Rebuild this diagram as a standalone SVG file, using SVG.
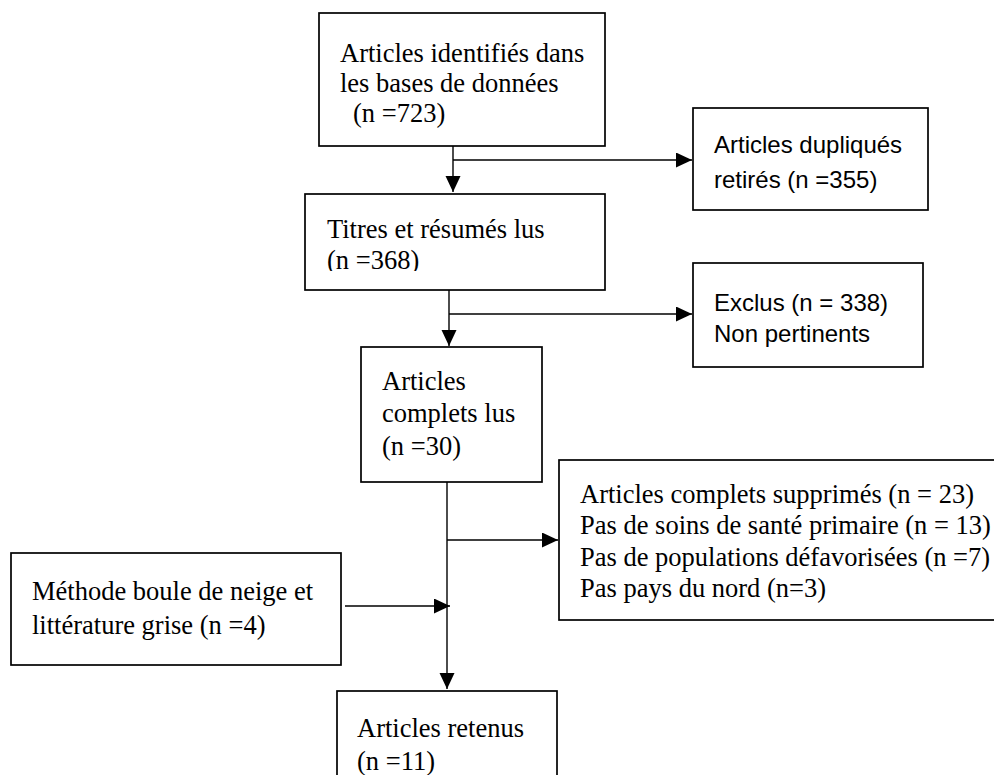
<svg xmlns="http://www.w3.org/2000/svg" width="994" height="775" viewBox="0 0 994 775">
<style>
.box{fill:#fff;stroke:#000;stroke-width:1.7}
.serif{font-family:"Liberation Serif","Times New Roman",serif;font-size:26.5px;fill:#000}
.sans{font-family:"Liberation Sans",Arial,sans-serif;font-size:24px;fill:#000}
.conn{stroke:#000;stroke-width:1.4;fill:none}
</style>
<defs>
<marker id="ah" markerUnits="userSpaceOnUse" markerWidth="17" markerHeight="17" refX="16" refY="7.5" orient="auto">
<path d="M0,0 L16,7.5 L0,15 z" fill="#000"/>
</marker>
<clipPath id="clip2"><rect x="305" y="194" width="300" height="77"/></clipPath>
</defs>
<rect width="994" height="775" fill="#fff"/>
<g id="connectors">
<line class="conn" x1="453" y1="137" x2="453" y2="192" marker-end="url(#ah)"/>
<line class="conn" x1="453" y1="160" x2="692" y2="160" marker-end="url(#ah)"/>
<line class="conn" x1="449" y1="287" x2="449" y2="346" marker-end="url(#ah)"/>
<line class="conn" x1="449" y1="314" x2="692" y2="314" marker-end="url(#ah)"/>
<line class="conn" x1="447" y1="482" x2="447" y2="689" marker-end="url(#ah)"/>
<line class="conn" x1="447" y1="540" x2="558" y2="540" marker-end="url(#ah)"/>
<line class="conn" x1="345" y1="606" x2="450" y2="606" marker-end="url(#ah)"/>
</g>
<g id="node-identified">
<rect class="box" x="319" y="13" width="286" height="133"/>
<text class="serif" x="340" y="62">Articles identifiés dans</text>
<text class="serif" x="340" y="92">les bases de données</text>
<text class="serif" x="353" y="122">(n =723)</text>
</g>
<g id="node-duplicates">
<rect class="box" x="693" y="108" width="235" height="102"/>
<text class="sans" x="714" y="153">Articles dupliqués</text>
<text class="sans" x="714" y="188">retirés (n =355)</text>
</g>
<g id="node-titles">
<rect class="box" x="305" y="194" width="300" height="96"/>
<g clip-path="url(#clip2)">
<text class="serif" x="327" y="238">Titres et résumés lus</text>
<text class="serif" x="327" y="269">(n =368)</text>
</g>
</g>
<g id="node-excluded">
<rect class="box" x="693" y="263" width="230" height="104"/>
<text class="sans" x="714" y="311">Exclus (n = 338)</text>
<text class="sans" x="714" y="342">Non pertinents</text>
</g>
<g id="node-fulltext">
<rect class="box" x="361" y="347" width="181" height="135"/>
<text class="serif" x="382" y="390">Articles</text>
<text class="serif" x="382" y="422">complets lus</text>
<text class="serif" x="382" y="455">(n =30)</text>
</g>
<g id="node-removed">
<rect class="box" x="559" y="460" width="460" height="160"/>
<text class="serif" x="580" y="503">Articles complets supprimés (n = 23)</text>
<text class="serif" x="580" y="534">Pas de soins de santé primaire (n = 13)</text>
<text class="serif" x="580" y="566">Pas de populations défavorisées (n =7)</text>
<text class="serif" x="580" y="597">Pas pays du nord (n=3)</text>
</g>
<g id="node-snowball">
<rect class="box" x="11" y="553" width="330" height="112"/>
<text class="serif" x="32" y="600">Méthode boule de neige et</text>
<text class="serif" x="32" y="634">littérature grise (n =4)</text>
</g>
<g id="node-retained">
<rect class="box" x="337" y="691" width="220" height="100"/>
<text class="serif" x="357" y="737">Articles retenus</text>
<text class="serif" x="357" y="770">(n =11)</text>
</g>
</svg>
